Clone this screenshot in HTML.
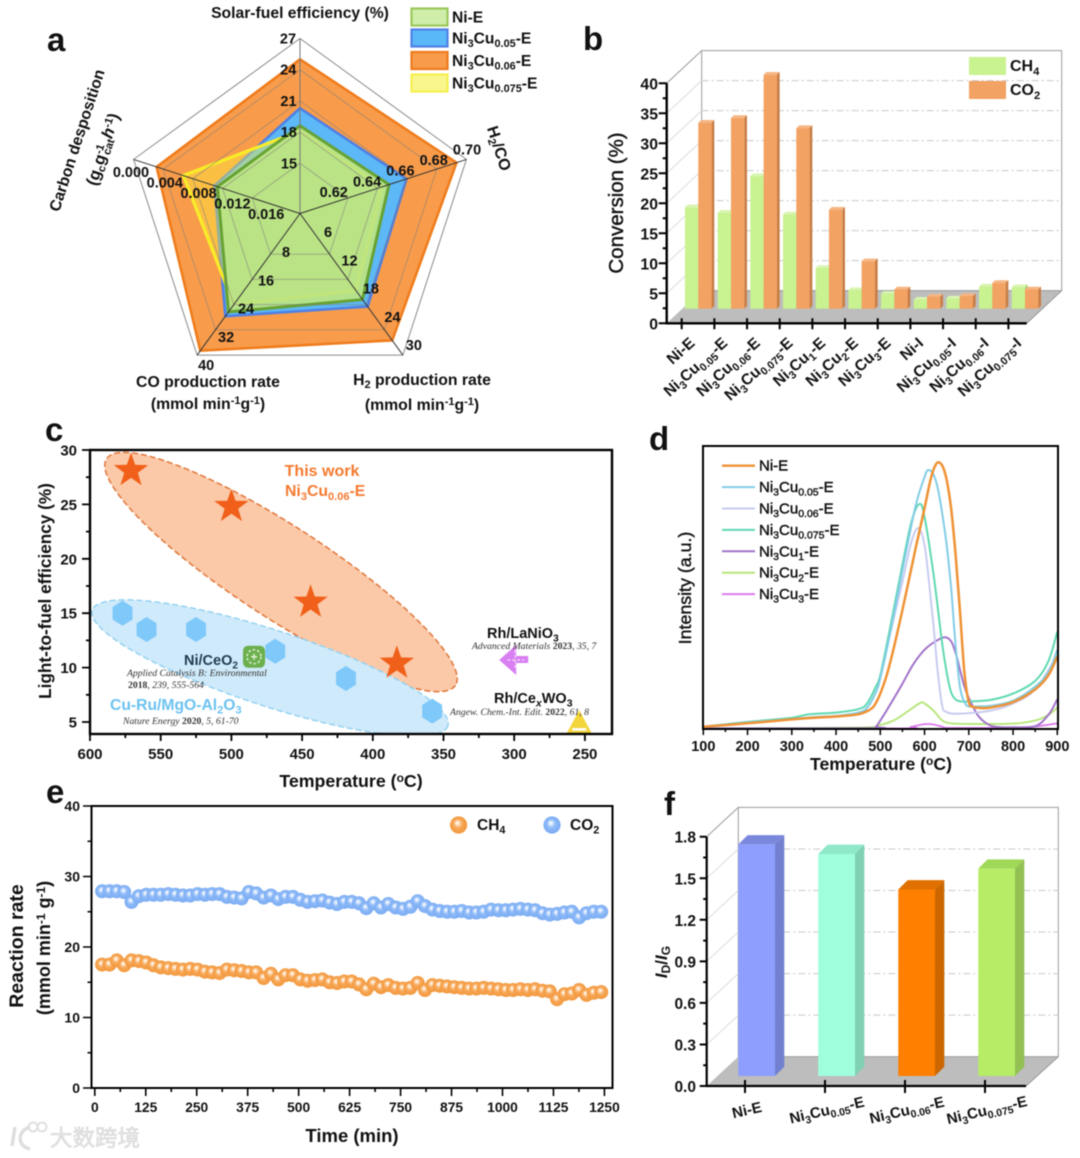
<!DOCTYPE html>
<html lang="en">
<head>
<meta charset="utf-8">
<title>Ni3Cu catalyst performance figure</title>
<style>
html,body{margin:0;padding:0;background:#fff;width:1080px;height:1158px;overflow:hidden}
svg{display:block;filter:blur(0.45px)}
text{font-family:"Liberation Sans","Noto Sans CJK SC",sans-serif;font-weight:bold;fill:#111}
.panel{font-size:33px}
.serif{font-family:"Liberation Serif",serif;font-weight:normal;font-style:italic;font-size:9.7px;fill:#333}
.serif .b{font-weight:bold;font-style:normal}
</style>
</head>
<body>
<svg id="chart" xmlns="http://www.w3.org/2000/svg" width="1080" height="1158" viewBox="0 0 1080 1158">
<defs>
<radialGradient id="beadO" cx=".5" cy=".5" r=".55" fx=".42" fy=".36"><stop offset="0" stop-color="#fff"/><stop offset=".2" stop-color="#fde0c0"/><stop offset=".45" stop-color="#f8a95a"/><stop offset="1" stop-color="#f09436"/></radialGradient>
<radialGradient id="beadB" cx=".5" cy=".5" r=".55" fx=".42" fy=".36"><stop offset="0" stop-color="#fff"/><stop offset=".2" stop-color="#d6e6fd"/><stop offset=".45" stop-color="#8dbaf8"/><stop offset="1" stop-color="#78a9f2"/></radialGradient>
<clipPath id="clipC"><rect x="90" y="450" width="522" height="284"/></clipPath>
<clipPath id="clipD"><rect x="703" y="446" width="355" height="283"/></clipPath>
</defs>

<!-- panel a static text -->
<g id="panelA">
<text class="panel" x="47" y="51">a</text>
<text x="300" y="18" text-anchor="middle" font-size="15.7">Solar-fuel efficiency (%)</text>
<text transform="translate(494,150) rotate(72)" text-anchor="middle" font-size="16">H<tspan dy="3" font-size="11">2</tspan><tspan dy="-3">/CO</tspan></text>
<text x="422" y="385" text-anchor="middle" font-size="15.8">H<tspan dy="3" font-size="11">2</tspan><tspan dy="-3"> production rate</tspan></text>
<text x="422" y="410" text-anchor="middle" font-size="15.8">(mmol min<tspan dy="-5" font-size="11">-1</tspan><tspan dy="5">g</tspan><tspan dy="-5" font-size="11">-1</tspan><tspan dy="5">)</tspan></text>
<text x="208" y="387" text-anchor="middle" font-size="15.8">CO production rate</text>
<text x="208" y="409" text-anchor="middle" font-size="15.8">(mmol min<tspan dy="-5" font-size="11">-1</tspan><tspan dy="5">g</tspan><tspan dy="-5" font-size="11">-1</tspan><tspan dy="5">)</tspan></text>
<text transform="translate(82,142) rotate(-72)" text-anchor="middle" font-size="15.8">Carbon desposition</text>
<text transform="translate(108,151) rotate(-72)" text-anchor="middle" font-size="16.5">(g<tspan dy="3" font-size="11">c</tspan><tspan dy="-3">g</tspan><tspan dy="-5" font-size="11">-1</tspan><tspan dy="8" dx="-8" font-size="11">cat</tspan><tspan dy="-3" font-style="italic">h</tspan><tspan dy="-5" font-size="11">-1</tspan><tspan dy="5">)</tspan></text>
</g>

<g id="panelB">
<text class="panel" x="583" y="50">b</text>
<text transform="translate(623,203) rotate(-90)" text-anchor="middle" font-size="20.5" style="font-weight:normal;stroke:#111;stroke-width:.4">Conversion (%)</text>
</g>

<g id="panelC">
<text class="panel" x="45" y="441">c</text>
<text transform="translate(51,591) rotate(-90)" text-anchor="middle" font-size="17.2">Light-to-fuel efficiency (%)</text>
<text x="351" y="787" text-anchor="middle" font-size="17.8">Temperature (<tspan dy="-5" font-size="12">o</tspan><tspan dy="5">C)</tspan></text>
</g>

<g id="panelD">
<text class="panel" x="649" y="450">d</text>
<text transform="translate(691,588) rotate(-90)" text-anchor="middle" font-size="17.8" style="font-weight:normal;stroke:#111;stroke-width:.4">Intensity (a.u.)</text>
<text x="881" y="770" text-anchor="middle" font-size="17.6">Temperature (<tspan dy="-5" font-size="12">o</tspan><tspan dy="5">C)</tspan></text>
</g>

<g id="panelE">
<text class="panel" x="46" y="803">e</text>
<text transform="translate(23,946) rotate(-90)" text-anchor="middle" font-size="19.5">Reaction rate</text>
<text transform="translate(50,948) rotate(-90)" text-anchor="middle" font-size="18">(mmol min<tspan dy="-5" font-size="12">-1</tspan><tspan dy="5"> g</tspan><tspan dy="-5" font-size="12">-1</tspan><tspan dy="5">)</tspan></text>
<text x="352" y="1142" text-anchor="middle" font-size="18.5">Time (min)</text>
</g>

<g id="panelF">
<text class="panel" x="664" y="815">f</text>
<text transform="translate(667,962) rotate(-90)" text-anchor="middle" font-size="17"><tspan font-style="italic">I</tspan><tspan dy="3" font-size="12">D</tspan><tspan dy="-3">/</tspan><tspan font-style="italic">I</tspan><tspan dy="3" font-size="12">G</tspan></text>
</g>

<g id="watermark" opacity=".95">
<path d="M15 1127 L12 1146 M30 1127 C18 1130 16 1146 30 1149" fill="none" stroke="#dcdcdc" stroke-width="3.4"/>
<circle cx="33" cy="1127" r="4.5" fill="none" stroke="#dcdcdc" stroke-width="1.8"/>
<circle cx="42" cy="1127" r="4.5" fill="none" stroke="#dcdcdc" stroke-width="1.8"/>
<text x="50" y="1146" font-size="22.5" style="fill:#e4e4e4;font-weight:normal;stroke:#d0d0d0;stroke-width:.5">大数跨境</text>
</g>
</svg>

<script>
/* ---------- chart data ---------- */
// a: radar
const solarTicks = [15, 18, 21, 24, 27];
const h2coTicks = [0.62, 0.64, 0.66, 0.68, 0.70];
const h2RateTicks = [6, 12, 18, 24, 30];
const coRateTicks = [8, 16, 24, 32, 40];
const carbonTicks = [0.016, 0.012, 0.008, 0.004, 0.000];
// order: solar, H2/CO, H2 rate, CO rate, carbon
const radarNiE = [18.6, 0.6478, 16.8, 26.3, 0.0113];
const radarCu005 = [20.3, 0.6596, 18.45, 27.7, 0.0109];
const radarCu006 = [25.0, 0.6933, 26.5, 38.6, 0.0031];
const radarCu0075 = [18.1, 0.6433, 14.7, 24.0, 0.0067];
const radarLegendLabels = ['Ni-E', 'Ni3Cu0.05-E', 'Ni3Cu0.06-E', 'Ni3Cu0.075-E'];

// b: conversion bars
const convCategories = ['Ni-E', 'Ni3Cu0.05-E', 'Ni3Cu0.06-E', 'Ni3Cu0.075-E', 'Ni3Cu1-E', 'Ni3Cu2-E', 'Ni3Cu3-E', 'Ni-I', 'Ni3Cu0.05-I', 'Ni3Cu0.06-I', 'Ni3Cu0.075-I'];
const convCH4 = [16.9, 16.0, 22.1, 15.7, 6.8, 3.1, 2.5, 1.5, 1.7, 3.7, 3.6];
const convCO2 = [31.0, 31.8, 39.0, 30.1, 16.5, 7.9, 3.2, 2.0, 2.1, 4.3, 3.2];
const convTicks = [0, 5, 10, 15, 20, 25, 30, 35, 40];

// c: scatter
const starTemps = [571, 500, 444, 383];
const starEffs = [28.1, 24.8, 16.0, 10.4];
const hexTemps = [577, 560, 525, 469, 419, 358];
const hexEffs = [15.0, 13.5, 13.5, 11.5, 9.0, 6.0];
const ceriaPoint = [484, 11];
const lanioPoint = [300, 10.7];
const cewoPoint = [254, 4.9];
const effTicks = [5, 10, 15, 20, 25, 30];
const tempTicksC = [600, 550, 500, 450, 400, 350, 300, 250];

// d: curves
const tpoTicks = [100, 200, 300, 400, 500, 600, 700, 800, 900];
const tpoLabels = ['Ni-E', 'Ni3Cu0.05-E', 'Ni3Cu0.06-E', 'Ni3Cu0.075-E', 'Ni3Cu1-E', 'Ni3Cu2-E', 'Ni3Cu3-E'];
const niET = [100,200,300,350,400,450,470,485,500,520,550,580,600,615,628,640,650,660,670,680,690,700,710,730,750,800,850,880,900];
const niEI = [0.8,2.0,3.4,4.0,4.4,5.2,6.3,8,12.5,22,42,64,78,89,94,93,88,78,62,42,20,9.5,7.8,7.4,7.6,9.5,14,19,25.6];
const cu005T = [100,200,300,350,400,450,470,490,500,520,550,580,600,608,620,630,640,650,660,670,680,690,700,720,750,800,850,880,900];
const cu005I = [0.8,2.3,3.5,4.2,4.6,5.8,7.5,13,18,32,56,79,89,91.5,90,85,76,65,50,30,15,9.5,8,8,8.2,10,15,20,28];
const cu006T = [100,200,300,400,450,470,490,500,520,550,570,586,600,610,620,630,640,650,660,680,700,750,800,850,900];
const cu006I = [0.8,2.2,3.5,4.6,5.8,7.5,13,18,32,52,66,71,65,52,37,20,8,6,5.5,5.4,5.6,6.5,9,14,26];
const cu0075T = [100,200,300,340,400,450,470,490,500,520,550,570,588,600,620,640,650,660,670,680,700,750,800,850,880,900];
const cu0075I = [0.8,2.5,4,5.2,5.8,7,9,15,19,34,58,73,79.5,75,55,30,20,13,10.5,9.8,9.7,10.3,12.5,17,24,34.4];
const cu1T = [100,480,490,500,520,550,575,600,625,646,660,670,680,690,700,720,740,760,800,850,880,900];
const cu1I = [0.2,0.3,0.8,3,8,16,23,28,31,32.4,31,27,21,15,11,5,2,0.8,0.6,1,5,10.5];
const cu2T = [100,450,500,530,560,590,600,620,640,660,700,800,850,880,900];
const cu2I = [0.2,0.5,1.5,3,6,9.2,9,6.5,3,2,1.8,1.9,3,5,7.5];
const cu3T = [100,540,570,600,620,640,660,800,850,900];
const cu3I = [0.1,0.2,0.8,1.7,1.6,0.8,0.4,0.5,0.9,2];

// e: stability
const timeTicks = [0,125,250,375,500,625,750,875,1000,1125,1250];
const rateTicks = [0,10,20,30,40];
const sampleTimes = [18,36,54,72,90,108,126,144,162,180,198,216,234,252,270,288,306,324,342,360,378,396,414,432,450,468,486,504,522,540,558,576,594,612,630,648,666,684,702,720,738,756,774,792,810,828,846,864,882,900,918,936,954,972,990,1008,1026,1044,1062,1080,1098,1116,1134,1152,1170,1188,1206,1224,1242];
const rateCH4 = [17.5,17.5,18.1,17.4,18.1,18.0,17.8,17.4,17.1,17.0,16.9,16.8,16.9,16.8,16.5,16.4,16.3,16.8,16.7,16.6,16.4,16.4,15.6,16.2,15.4,16.0,16.0,15.4,15.2,15.3,15.4,15.0,14.9,15.1,15.1,14.7,14.0,14.8,14.3,14.6,14.2,14.1,14.2,14.9,13.9,14.6,14.5,14.4,14.3,14.2,14.1,14.1,14.2,14.1,14.0,13.9,13.9,14.0,13.9,14.0,13.8,13.7,12.6,13.3,13.4,13.9,13.2,13.5,13.6];
const rateCO2 = [27.9,27.9,27.9,27.8,26.4,27.2,27.4,27.4,27.4,27.5,27.4,27.3,27.3,27.5,27.4,27.5,27.5,27.1,27.0,26.9,27.8,27.6,27.0,27.3,26.8,27.1,27.1,26.7,26.4,26.5,26.6,26.3,26.1,26.4,26.4,26.2,25.5,26.2,25.6,26.1,25.6,25.4,25.7,26.5,25.8,25.3,25.1,25.0,25.0,25.1,24.9,24.9,25.0,25.3,25.2,25.2,25.3,25.4,25.3,25.2,24.8,24.6,24.7,24.9,25.0,24.2,24.8,25.0,25.0];

// f: Id/Ig
const idigCategories = ['Ni-E', 'Ni3Cu0.05-E', 'Ni3Cu0.06-E', 'Ni3Cu0.075-E'];
const idigValues = [1.672, 1.603, 1.347, 1.497];
const idigTicks = [0, 0.3, 0.6, 0.9, 1.2, 1.5, 1.8];

/* ---------- helpers ---------- */
const NS = 'http://www.w3.org/2000/svg';
function mk(parent, tag, attrs) {
  const e = document.createElementNS(NS, tag);
  for (const k in attrs) e.setAttribute(k, attrs[k]);
  parent.appendChild(e);
  return e;
}
function label(parent, x, y, str, size, anchor, extra) {
  const e = mk(parent, 'text', Object.assign({x: x, y: y, 'font-size': size, 'text-anchor': anchor || 'middle'}, extra || {}));
  e.textContent = str;
  return e;
}
// Chemical names: numbers become subscripts, as real tspans
function chem(parent, x, y, str, size, anchor, extra) {
  const e = mk(parent, 'text', Object.assign({x: x, y: y, 'font-size': size, 'text-anchor': anchor || 'start'}, extra || {}));
  const sub = size * 0.7, shift = size * 0.24;
  str.split(/(\d+\.?\d*)/).forEach(function (part, i) {
    if (!part) return;
    const t = mk(e, 'tspan', {});
    t.textContent = part;
    if (i % 2) { t.setAttribute('font-size', sub); t.setAttribute('dy', shift); }
    else if (i > 0) { t.setAttribute('dy', -shift); }
  });
  return e;
}
function fmt(v, d) { return v.toFixed(d); }

/* ---------- a: radar ---------- */
(function () {
  const g = document.getElementById('panelA');
  const cx = 300, cy = 213.5, R = 175, f0 = 0.287;
  const allTicks = [solarTicks, h2coTicks, h2RateTicks, coRateTicks, carbonTicks];
  const angles = [-90, -18, 54, 126, 198].map(function (d) { return d * Math.PI / 180; });
  const frac = function (v, t) { return f0 + (1 - f0) * (v - t[0]) / (t[t.length - 1] - t[0]); };
  const pt = function (f, i) { return [cx + R * f * Math.cos(angles[i]), cy + R * f * Math.sin(angles[i])]; };
  const poly = function (vals) {
    return vals.map(function (v, i) { return pt(frac(v, allTicks[i]), i).map(function (n) { return n.toFixed(1); }).join(','); }).join(' ');
  };
  const styles = [
    [radarCu006, '#f89c4b', '#ef7c1c', 2.6, 'series-ni3cu006'],
    [radarCu005, '#5cb8f6', '#4f80e5', 2.6, 'series-ni3cu005'],
    [radarCu0075, 'rgba(255,240,60,.42)', '#f8ec28', 3.2, 'series-ni3cu0075'],
    [radarNiE, 'rgba(188,228,130,.93)', '#67a233', 3, 'series-ni-e']
  ];
  styles.forEach(function (s) {
    const p = mk(g, 'polygon', {points: poly(s[0]), fill: s[1], stroke: s[2], 'stroke-width': s[3], 'stroke-linejoin': 'miter'});
    
    
  });
  [0, 1, 2, 3, 4].forEach(function (k) {
    const f = f0 + (1 - f0) * k / 4;
    const pts = [0, 1, 2, 3, 4].map(function (i) { return pt(f, i).map(function (n) { return n.toFixed(1); }).join(','); }).join(' ');
    const ring = mk(g, 'polygon', {points: pts, fill: 'none', stroke: '#7d7d7d', 'stroke-width': 1, opacity: k === 4 ? 0.9 : 0.55});
    
    
  });
  angles.forEach(function (a, i) {
    const end = pt(1, i);
    const l = mk(g, 'line', {x1: cx, y1: cy, x2: end[0], y2: end[1], stroke: i === 0 ? '#777' : '#333', 'stroke-width': 1});
    
    
  });
  // label placement along each spoke: offset at first tick, offset at last tick
  const offs = [[-11, 0, -12, 0], [-14, -6, 0.6, -10], [-1.5, -22, 11, -10], [15.5, -2, 9, 10], [14, 16, -2.6, 12.6]];
  const dec = [0, 2, 0, 0, 3];
  allTicks.forEach(function (ticks, i) {
    ticks.forEach(function (t, k) {
      const f = frac(t, ticks), p = pt(f, i), o = offs[i], u = k / (ticks.length - 1);
      const tx = label(g, p[0] + o[0] + (o[2] - o[0]) * u, p[1] + o[1] + (o[3] - o[1]) * u + 5, fmt(t, dec[i]), 14.5);
      
      
    });
  });
  const sw = [['#cfeeaa', '#9ac85a', 8.5], ['#58b8f8', '#4f80e5', 29.5], ['#f89c4b', '#ee7a1c', 52], ['#f8f68c', '#f6f050', 74.5]];
  sw.forEach(function (s, i) {
    const r = mk(g, 'rect', {x: 411.5, y: s[2], width: 36, height: 17, fill: s[0], stroke: s[1], 'stroke-width': 2.2});
    
    
    const t = chem(g, 452, s[2] + 14, radarLegendLabels[i], 15.6);
    
    
  });
})();

/* ---------- 3D bar helper ---------- */
function bar3d(g, x, top, w, base, d, col, name) {
  const top3 = mk(g, 'polygon', {points: [[x, top], [x + d, top - d * col[3]], [x + w + d, top - d * col[3]], [x + w, top]].join(' '), fill: col[2]});
  
  
  const side = mk(g, 'polygon', {points: [[x + w, top], [x + w + d, top - d * col[3]], [x + w + d, base - d * col[3]], [x + w, base]].join(' '), fill: col[1]});
  
  
  const front = mk(g, 'rect', {x: x, y: top, width: w, height: base - top, fill: col[0]});
  
  
}
function wall3d(g, fx, fy0, fyTop, backx, backRight, frontRight, dy, yOf, ticks, wallColor) {
  const yBack0 = fy0 - dy;
  const floor = mk(g, 'polygon', {points: [[fx, fy0], [backx, yBack0], [backRight, yBack0], [frontRight, fy0]].join(' '), fill: '#bdbdbd'});
  
  
  const wall = mk(g, 'rect', {x: backx, y: fyTop - dy, width: backRight - backx, height: yBack0 - fyTop + dy, fill: 'none', stroke: wallColor, 'stroke-width': 1});
  
  
  const side = mk(g, 'line', {x1: fx, y1: fyTop, x2: backx, y2: fyTop - dy, stroke: wallColor, 'stroke-width': 1});
  
  
  const right = mk(g, 'line', {x1: backRight, y1: yBack0, x2: frontRight, y2: fy0, stroke: '#999', 'stroke-width': 1});
  
  
  ticks.forEach(function (t, i) {
    if (i === 0 || i === ticks.length - 1) return;
    const y = yOf(t);
    const dash = mk(g, 'line', {x1: backx, y1: y - dy, x2: backRight, y2: y - dy, stroke: '#c8c8c8', 'stroke-width': 1, 'stroke-dasharray': '7 3 2 3'});
    
    
    const diag = mk(g, 'line', {x1: fx, y1: y, x2: backx, y2: y - dy, stroke: '#dcdcdc', 'stroke-width': 1});
    
    
  });
}

/* ---------- b: conversion bars ---------- */
(function () {
  const g = document.getElementById('panelB');
  const fx = 666.7, fy0 = 323.3, unit = 6, base = 308.7;
  const y = function (v) { return fy0 - v * unit; };
  wall3d(g, fx, fy0, y(40), 701.7, 1061.7, 1026.7, 32.7, y, convTicks, '#9a9a9a');
  const green = ['#c9f291', '#a4cc74', '#d9f5b2', 1];
  const orange = ['#f2a262', '#c87d45', '#f6b582', 1];
  convCategories.forEach(function (c, i) {
    const x = 685 + i * 32.67;
    bar3d(g, x, base - convCH4[i] * unit, 13.3, base, 2.7, green, 'bar-ch4');
    bar3d(g, x + 13.3, base - convCO2[i] * unit, 13.3, base, 2.7, orange, 'bar-co2');
  });
  const ax = mk(g, 'path', {d: 'M' + fx + ' ' + y(40) + 'V' + fy0 + 'H1026.7', fill: 'none', stroke: '#000', 'stroke-width': 2.4});
  
  
  let tk = '';
  convTicks.forEach(function (t) {
    tk += 'M' + (fx - 8) + ' ' + y(t) + 'H' + fx;
    if (t < 40) tk += 'M' + (fx - 4) + ' ' + y(t + 2.5) + 'H' + fx;
    const tx = label(g, 658, y(t) + 6, String(t), 15.8, 'end');
    
    
  });
  convCategories.forEach(function (c, i) {
    const x = 681.7 + i * 32.67;
    tk += 'M' + x + ' ' + (fy0 - 5) + 'V' + (fy0 + 6);
    const t = chem(g, 0, 0, c, 15.6, 'end', {transform: 'translate(' + (x + 14) + ',' + (fy0 + 21) + ') rotate(-42)'});
    
    
  });
  const ticks = mk(g, 'path', {d: tk, stroke: '#000', 'stroke-width': 2, fill: 'none'});
  
  
  const l1 = mk(g, 'rect', {x: 969, y: 57, width: 37, height: 18, fill: '#c9f291'});
  
  
  const l2 = mk(g, 'rect', {x: 969, y: 81, width: 37, height: 18, fill: '#f2a262'});
  
  
  const t1 = chem(g, 1010, 71, 'CH4', 16);
  
  
  const t2 = chem(g, 1010, 95, 'CO2', 16);
  
  
})();

/* ---------- c: scatter ---------- */
(function () {
  const g = document.getElementById('panelC');
  const x = function (t) { return 90 + (600 - t) * 1.414; };
  const y = function (v) { return 450 + (30 - v) * 10.88; };
  const clip = mk(g, 'g', {'clip-path': 'url(#clipC)'});
  const e1 = mk(clip, 'ellipse', {cx: 281, cy: 572, rx: 208, ry: 46, transform: 'rotate(33 281 572)', fill: '#fbc9a8', stroke: '#e0763a', 'stroke-width': 1.5, 'stroke-dasharray': '6 3'});
  
  
  const e2 = mk(clip, 'ellipse', {cx: 270, cy: 668, rx: 187, ry: 38, transform: 'rotate(18 270 668)', fill: '#cfeafa', stroke: '#8fd0f0', 'stroke-width': 1.4, 'stroke-dasharray': '6 3'});
  
  
  hexTemps.forEach(function (t, i) {
    const cx = x(t), cy = y(hexEffs[i]), r = 12.5;
    const pts = [0, 1, 2, 3, 4, 5].map(function (k) {
      const a = (k * 60 - 90) * Math.PI / 180;
      return (cx + r * 0.92 * Math.cos(a)).toFixed(1) + ',' + (cy + r * Math.sin(a)).toFixed(1);
    }).join(' ');
    const h = mk(clip, 'polygon', {points: pts, fill: '#7ec8fa'});
    
    
  });
  starTemps.forEach(function (t, i) {
    const cx = x(t), cy = y(starEffs[i]);
    const pts = [];
    for (let k = 0; k < 10; k++) {
      const r = k % 2 ? 7.2 : 18, a = (k * 36 - 90) * Math.PI / 180;
      pts.push((cx + r * Math.cos(a)).toFixed(1) + ',' + (cy + r * Math.sin(a)).toFixed(1));
    }
    const s = mk(clip, 'polygon', {points: pts.join(' '), fill: '#f1601a'});
    
    
  });
  // Ni/CeO2 marker
  const mx = x(ceriaPoint[0]), my = y(ceriaPoint[1]);
  const m1 = mk(clip, 'rect', {x: mx - 11, y: my - 11, width: 22, height: 22, rx: 5, fill: '#6cb04e'});
  
  
  const m1b = mk(clip, 'circle', {cx: mx, cy: my, r: 7, stroke: '#dff0d4', 'stroke-width': 1.5, 'stroke-dasharray': '2.5 2', fill: 'none'});
  
  
  const m1c = mk(clip, 'path', {d: 'M' + (mx - 3) + ' ' + my + 'H' + (mx + 3) + 'M' + mx + ' ' + (my - 3) + 'V' + (my + 3), stroke: '#dff0d4', 'stroke-width': 1.5, fill: 'none'});
  
  
  // Rh/LaNiO3 marker
  const lx = x(lanioPoint[0]), ly = y(lanioPoint[1]);
  const m2 = mk(clip, 'path', {d: 'M' + (lx - 15) + ' ' + ly + 'L' + (lx + 2) + ' ' + (ly - 15) + 'V' + (ly - 4) + 'H' + (lx + 14) + 'V' + (ly + 3) + 'H' + (lx + 2) + 'V' + (ly + 15) + 'Z', fill: '#d97ff2'});
  
  
  const m2b = mk(clip, 'path', {d: 'M' + (lx + 1) + ' ' + (ly - 10) + 'V' + (ly + 10) + 'M' + (lx - 7) + ' ' + ly + 'H' + (lx + 10), stroke: '#f4dcfb', 'stroke-width': 1.2, 'stroke-dasharray': '3 2'});
  
  
  // Rh/CexWO3 marker
  const wx = x(cewoPoint[0]), wy = y(cewoPoint[1]);
  const m3 = mk(clip, 'polygon', {points: [[wx, wy - 13], [wx + 13, wy + 11], [wx - 13, wy + 11]].join(' '), fill: '#f3d53c'});
  
  
  const m3b = mk(clip, 'rect', {x: wx - 7, y: wy + 5, width: 14, height: 2.5, fill: '#fff'});
  
  

  const box = mk(g, 'rect', {x: 90, y: 450, width: 522, height: 284, fill: 'none', stroke: '#000', 'stroke-width': 2.4});
  
  
  let tk = '';
  effTicks.forEach(function (v) {
    tk += 'M82 ' + y(v) + 'H90';
    if (v < 30) tk += 'M86 ' + y(v + 2.5) + 'H90';
    const t = label(g, 77, y(v) + 5.5, String(v), 15, 'end');
    
    
  });
  tempTicksC.forEach(function (v) {
    tk += 'M' + x(v) + ' 734V741';
    if (v - 25 > 231) tk += 'M' + x(v - 25) + ' 734V738';
    const t = label(g, x(v), 759, String(v), 15);
    
    
  });
  const ticks = mk(g, 'path', {d: tk, stroke: '#000', 'stroke-width': 1.8, fill: 'none'});
  
  

  const a1 = label(g, 322, 476, 'This work', 16, 'middle', {style: 'fill:#f47a30'});
  
  
  const a2 = chem(g, 285, 496, 'Ni3Cu0.06-E', 15.8, 'start', {style: 'fill:#f47a30'});
  
  
  const a3 = chem(g, 184, 665, 'Ni/CeO2', 14.5, 'start', {style: 'fill:#1f3b4d'});
  
  
  const a4 = mk(g, 'text', {x: 110, y: 710, 'font-size': 15.7, style: 'fill:#6cc2f0'});
  a4.textContent = 'Cu-Ru/MgO-Al';
  const a4a = mk(a4, 'tspan', {dy: 3.5, 'font-size': 11}); a4a.textContent = '2';
  const a4b = mk(a4, 'tspan', {dy: -3.5}); a4b.textContent = 'O';
  const a4c = mk(a4, 'tspan', {dy: 3.5, 'font-size': 11}); a4c.textContent = '3';
  
  
  const a5 = chem(g, 487, 638, 'Rh/LaNiO3', 14.5);
  
  
  const a6 = mk(g, 'text', {x: 494, y: 703, 'font-size': 14.5});
  a6.textContent = 'Rh/Ce';
  const a6a = mk(a6, 'tspan', {dy: 3.5, 'font-size': 10.5, 'font-style': 'italic'}); a6a.textContent = 'x';
  const a6b = mk(a6, 'tspan', {dy: -3.5}); a6b.textContent = 'WO';
  const a6c = mk(a6, 'tspan', {dy: 3.5, 'font-size': 10.5}); a6c.textContent = '3';
  
  
  const refs = [
    [127, 676, 'Applied Catalysis B: Environmental', '', '', 'reference-applied-catalysis'],
    [128, 688, '', '2018', ', 239, 555-564', 'reference-applied-catalysis-year'],
    [123, 724, 'Nature Energy ', '2020', ', 5, 61-70', 'reference-nature-energy'],
    [472, 649, 'Advanced Materials ', '2023', ', 35, 7', 'reference-advanced-materials'],
    [450, 715, 'Angew. Chem.-Int. Edit. ', '2022', ', 61, 8', 'reference-angew-chem']
  ];
  refs.forEach(function (r) {
    const t = mk(g, 'text', {x: r[0], y: r[1], class: 'serif'});
    t.textContent = r[2];
    const b = mk(t, 'tspan', {class: 'b'}); b.textContent = r[3];
    const c = mk(t, 'tspan', {}); c.textContent = r[4];
    
    
  });
})();

/* ---------- d: curves ---------- */
(function () {
  const g = document.getElementById('panelD');
  const x = function (t) { return 703.3 + (t - 100) * 0.4425; };
  const y = function (v) { return 729 - v * 2.83; };
  function smooth(ts, is) {
    const p = ts.map(function (t, i) { return [x(t), y(is[i])]; });
    let d = 'M' + p[0][0].toFixed(1) + ' ' + p[0][1].toFixed(1);
    for (let i = 0; i < p.length - 1; i++) {
      const a = p[Math.max(i - 1, 0)], b = p[i], c = p[i + 1], e = p[Math.min(i + 2, p.length - 1)];
      const c1x = b[0] + (c[0] - a[0]) / 6, c1y = b[1] + (c[1] - a[1]) / 6;
      const c2x = c[0] - (e[0] - b[0]) / 6, c2y = c[1] - (e[1] - b[1]) / 6;
      d += 'C' + c1x.toFixed(1) + ' ' + c1y.toFixed(1) + ' ' + c2x.toFixed(1) + ' ' + c2y.toFixed(1) + ' ' + c[0].toFixed(1) + ' ' + c[1].toFixed(1);
    }
    return d;
  }
  const clip = mk(g, 'g', {'clip-path': 'url(#clipD)'});
  const curves = [
    [cu3T, cu3I, '#dc7cec', 1.8],
    [cu2T, cu2I, '#b6e67a', 1.9],
    [cu1T, cu1I, '#a273c9', 2],
    [cu006T, cu006I, '#c6caf0', 1.9],
    [cu0075T, cu0075I, '#5fd8b2', 2],
    [cu005T, cu005I, '#82cde6', 2],
    [niET, niEI, '#ef9234', 2.5]
  ];
  curves.forEach(function (c) {
    const p = mk(clip, 'path', {d: smooth(c[0], c[1]), fill: 'none', stroke: c[2], 'stroke-width': c[3]});
    
    
  });
  const box = mk(g, 'rect', {x: 703, y: 446, width: 355, height: 283, fill: 'none', stroke: '#000', 'stroke-width': 2});
  
  
  let tk = '';
  tpoTicks.forEach(function (t) {
    tk += 'M' + x(t) + ' 729V735';
    if (t < 900) tk += 'M' + x(t + 50) + ' 729V732';
    const s = label(g, x(t), 751, String(t), 14.5);
    
    
  });
  const ticks = mk(g, 'path', {d: tk, stroke: '#000', 'stroke-width': 1.5, fill: 'none'});
  
  
  const lineCols = ['#ef9234', '#82cde6', '#c6caf0', '#5fd8b2', '#a273c9', '#b6e67a', '#dc7cec'];
  tpoLabels.forEach(function (lab, i) {
    const ly = 465.7 + i * 21.4;
    const l = mk(g, 'line', {x1: 722, x2: 755, y1: ly, y2: ly, stroke: lineCols[i], 'stroke-width': i === 0 ? 2.4 : 2});
    
    
    const t = chem(g, 759, ly + 5, lab, 15, 'start', {style: 'font-weight:normal;stroke:#111;stroke-width:.4'});
    
    
  });
})();

/* ---------- e: stability ---------- */
(function () {
  const g = document.getElementById('panelE');
  const x = function (t) { return 94.8 + t * 0.4077; };
  const y = function (v) { return 1088 - v * 7.05; };
  rateCH4.forEach(function (v, i) {
    const c = mk(g, 'circle', {cx: x(sampleTimes[i]).toFixed(1), cy: y(v).toFixed(1), r: 7, fill: 'url(#beadO)'});
    
    
  });
  rateCO2.forEach(function (v, i) {
    const c = mk(g, 'circle', {cx: x(sampleTimes[i]).toFixed(1), cy: y(v).toFixed(1), r: 7, fill: 'url(#beadB)'});
    
    
  });
  const box = mk(g, 'rect', {x: 91.5, y: 806, width: 521, height: 282, fill: 'none', stroke: '#000', 'stroke-width': 2});
  
  
  let tk = '';
  rateTicks.forEach(function (v) {
    tk += 'M83 ' + y(v) + 'H91.5';
    if (v < 40) tk += 'M87.5 ' + y(v + 5) + 'H91.5';
    const t = label(g, 80, y(v) + 5, String(v), 14, 'end');
    
    
  });
  timeTicks.forEach(function (v) {
    tk += 'M' + x(v) + ' 1088V1096';
    if (v < 1250) tk += 'M' + x(v + 62.5) + ' 1088V1092';
    const t = label(g, x(v), 1112, String(v), 13.8);
    
    
  });
  const ticks = mk(g, 'path', {d: tk, stroke: '#000', 'stroke-width': 1.6, fill: 'none'});
  
  
  const c1 = mk(g, 'circle', {cx: 458.6, cy: 825, r: 8.6, fill: 'url(#beadO)'});
  
  
  const c2 = mk(g, 'circle', {cx: 552, cy: 825, r: 8.6, fill: 'url(#beadB)'});
  
  
  const t1 = chem(g, 477, 830, 'CH4', 15.5);
  
  
  const t2 = chem(g, 570, 830, 'CO2', 15.5);
  
  
})();

/* ---------- f: Id/Ig ---------- */
(function () {
  const g = document.getElementById('panelF');
  const fx = 706.7, fy0 = 1086, unit = 138.5, base = 1076;
  const y = function (v) { return fy0 - v * unit; };
  wall3d(g, fx, fy0, y(1.8), 738.3, 1058.3, 1026, 29.3, y, idigTicks, '#9a9a9a');
  const cols = [
    ['#8e9eff', '#7280d0', '#7a88dc', 1],
    ['#9fffdc', '#80d0b4', '#8fe8c8', 1],
    ['#ff7f00', '#cc6600', '#e07000', 1],
    ['#b6ec66', '#92c052', '#a0d858', 1]
  ];
  idigValues.forEach(function (v, i) {
    const x = 738.3 + i * 80;
    bar3d(g, x, base - v * unit, 36.7, base, 9.3, cols[i], 'bar-id-ig');
  });
  const ax = mk(g, 'path', {d: 'M' + fx + ' ' + y(1.8) + 'V' + fy0 + 'H1026', fill: 'none', stroke: '#000', 'stroke-width': 2.2});
  
  
  let tk = '';
  idigTicks.forEach(function (t) {
    tk += 'M' + (fx - 7) + ' ' + y(t) + 'H' + fx;
    if (t < 1.8) tk += 'M' + (fx - 3.5) + ' ' + y(t + 0.15) + 'H' + fx;
    const s = label(g, 696, y(t) + 6, t.toFixed(1), 15.5, 'end');
    
    
  });
  idigCategories.forEach(function (c, i) {
    const x = 745 + i * 80;
    tk += 'M' + x + ' ' + (fy0 - 6) + 'V' + (fy0 + 7);
    const t = chem(g, 0, 0, c, 15, 'middle', {transform: 'translate(' + (x + 3) + ',' + (fy0 + 29) + ') rotate(-13)'});
    
    
  });
  const ticks = mk(g, 'path', {d: tk, stroke: '#000', 'stroke-width': 2, fill: 'none'});
  
  
})();
</script>
</body>
</html>
